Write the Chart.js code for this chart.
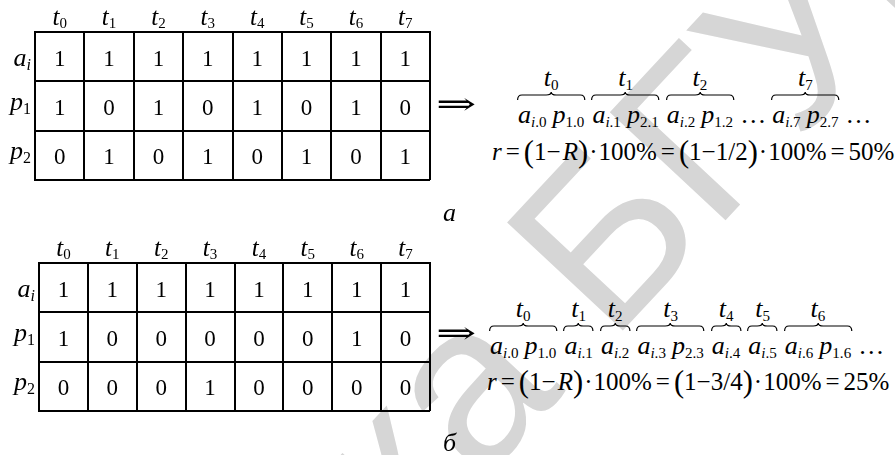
<!DOCTYPE html>
<html>
<head>
<meta charset="utf-8">
<script src="https://cdn.jsdelivr.net/npm/chart.js@4.4.1/dist/chart.umd.min.js"></script>
<style>
  body { margin: 0; background: #fff; }
  #page { position: relative; width: 895px; height: 455px; overflow: hidden;
          font-family: "Liberation Serif", "Times New Roman", serif; color: #000; }
  canvas { position: absolute; left: 0; z-index: 1; }
  #tabA { top: 0; }
  #tabB { top: 230px; }
  .terms, .rate, .cap, .arrow { position: absolute; white-space: nowrap; font-size: 26px; line-height: 26px; z-index: 1; }
  .rate { font-size: 25px; line-height: 25px; }
  .g { display: inline-block; position: relative; margin-right: 6px; padding: 0 1px; }
  .g svg { position: absolute; left: 0; top: -10px; overflow: visible; }
  .g .lab { position: absolute; left: 0; right: 0; top: -37px; text-align: center; }
  .g .sp { display: inline-block; width: 6px; }
  .dots { margin-right: 5px; }
  sub { font-size: 0.58em; vertical-align: -0.28em; line-height: 0; }
  .bp { font-size: 1.22em; vertical-align: -0.06em; line-height: 0; }
  .op { margin: 0 4px; }
  .dot { margin: 0 1px; }
  .arrow { font-family: "DejaVu Serif", serif; font-size: 30px; transform-origin: 0 50%; transform: scaleX(1.6); }
  #wm { position: absolute; left: 468px; top: 212px; font: 230px "Liberation Sans", sans-serif; line-height: 1;
        color: #d6d6d6; white-space: nowrap; transform-origin: 0 0; transform: rotate(-47deg); z-index: 0; }
  #wm span { position: absolute; right: 100%; top: 0; }
</style>
</head>
<body>
<div id="page">
  <div id="wm"><span>Библиотека&nbsp;</span>БГУИР</div>
  <canvas id="tabA" width="440" height="225"></canvas>
  <canvas id="tabB" width="440" height="225"></canvas>
  <div class="arrow" style="left:436px; top:91px;">⇒</div>
  <div class="arrow" style="left:436px; top:320px;">⇒</div>
  <div class="terms" id="termsA" style="left:517px; top:102px;"></div>
  <div class="rate" id="rateA" style="left:492px; top:139px;"></div>
  <div class="terms" id="termsB" style="left:489px; top:333px;"></div>
  <div class="rate" id="rateB" style="left:487px; top:369px;"></div>
  <div class="cap" style="left:443px; top:200px;"><i>а</i></div>
  <div class="cap" style="left:443px; top:430px;"><i>б</i></div>
</div>
<script>
// ------------------------------
// Data
// ------------------------------
const colKeys = ["0", "1", "2", "3", "4", "5", "6", "7"];
const rowKeys = ["a", "p1", "p2"];
const rowHeads = [["a", "i"], ["p", "1"], ["p", "2"]];

// table а
const aRowA  = [1, 1, 1, 1, 1, 1, 1, 1];
const p1RowA = [1, 0, 1, 0, 1, 0, 1, 0];
const p2RowA = [0, 1, 0, 1, 0, 1, 0, 1];
// table б
const aRowB  = [1, 1, 1, 1, 1, 1, 1, 1];
const p1RowB = [1, 0, 0, 0, 0, 0, 1, 0];
const p2RowB = [0, 0, 0, 1, 0, 0, 0, 0];

// columns written out in the output sequence, "…" = skipped
const seqA = ["0", "1", "2", "…", "7", "…"];
const seqB = ["0", "1", "2", "3", "4", "5", "6", "…"];
const fracA = "1/2", pctA = "50%";
const fracB = "3/4", pctB = "25%";

// ------------------------------
// Table drawing
// ------------------------------
const SERIF = '"Liberation Serif", "Times New Roman", serif';
const rowBase = { a: 9, p: 4 };

function drawRuns(ctx, runs, x, y, align) {
  let w = 0;
  runs.forEach(r => { ctx.font = r.font; r.w = ctx.measureText(r.text).width; w += r.w; });
  let cx = align === "center" ? x - w / 2 : align === "right" ? x - w : x;
  ctx.textAlign = "left";
  ctx.textBaseline = "alphabetic";
  runs.forEach(r => { ctx.font = r.font; ctx.fillText(r.text, cx, y + (r.dy || 0)); cx += r.w; });
}

const tableText = {
  id: "tableText",
  afterDraw(chart) {
    const ctx = chart.ctx;
    const xs = chart.scales.x, ys = chart.scales.y, area = chart.chartArea;
    ctx.save();
    ctx.fillStyle = "#000";
    colKeys.forEach((k, i) => {
      drawRuns(ctx, [
        { text: "t", font: "italic 25px " + SERIF },
        { text: k, font: "15px " + SERIF, dy: 3 }
      ], xs.getPixelForValue(i), area.top - 7, "center");
    });
    rowHeads.forEach((h, i) => {
      drawRuns(ctx, [
        { text: h[0], font: "italic 26px " + SERIF },
        { text: h[1], font: (h[1] === "i" ? "italic " : "") + "16px " + SERIF, dy: 4 }
      ], area.left - 4, ys.getPixelForValue(i) + rowBase[h[0]], "right");
    });
    const ds = chart.data.datasets[0];
    ctx.font = "23px " + SERIF;
    ctx.textAlign = "center";
    ctx.textBaseline = "alphabetic";
    chart.getDatasetMeta(0).data.forEach((el, i) => {
      ctx.fillText(String(ds.data[i].v), el.x, el.y + 9);
    });
    ctx.restore();
  }
};

function makeTable(id, rows, pad) {
  const pts = [];
  rows.forEach((row, r) => row.forEach((v, c) => pts.push({ x: colKeys[c], y: rowKeys[r], v })));
  const axis = (size) => ({
    type: "category",
    offset: true,
    grid: { offset: true, color: "#000", lineWidth: 2, drawTicks: false },
    border: { color: "#000", width: 2 },
    ticks: { display: false },
    afterFit: size
  });
  return new Chart(document.getElementById(id), {
    type: "scatter",
    data: { datasets: [{ data: pts, pointRadius: 0, pointHoverRadius: 0 }] },
    options: {
      responsive: false,
      animation: false,
      events: [],
      layout: { padding: pad },
      plugins: { legend: { display: false }, tooltip: { enabled: false } },
      scales: {
        x: Object.assign(axis(s => { s.height = 0; }), { labels: colKeys, position: "top" }),
        y: Object.assign(axis(s => { s.width = 0; }), { labels: rowKeys })
      }
    },
    plugins: [tableText]
  });
}

makeTable("tabA", [aRowA, p1RowA, p2RowA], { left: 35, top: 32, right: 10, bottom: 45 });
makeTable("tabB", [aRowB, p1RowB, p2RowB], { left: 39, top: 33, right: 10, bottom: 44 });

// ------------------------------
// Output sequences and rate
// ------------------------------
function termsHtml(seq, rows) {
  return seq.map(k => {
    if (k === "…") return '<span class="dots">…</span>';
    const c = colKeys.indexOf(k);
    let s = `<i>a</i><sub><i>i</i>.${k}</sub>`;
    rows.slice(1).forEach((row, j) => {
      if (row[c]) s += `<span class="sp"></span><i>p</i><sub>${j + 1}.${k}</sub>`;
    });
    return `<span class="g"><span class="lab"><i>t</i><sub>${k}</sub></span>${s}</span>`;
  }).join("");
}

function rateHtml(frac, pct) {
  const eq = '<span class="op">=</span>';
  const dot = '<span class="dot">\u00b7</span>';
  return `<i>r</i>${eq}<span class="bp">(</span>1\u2212\u200a<i>R</i><span class="bp">)</span>${dot}100%` +
         `${eq}<span class="bp">(</span>1\u2212${frac}<span class="bp">)</span>${dot}100%${eq}${pct}`;
}

document.getElementById("termsA").innerHTML = termsHtml(seqA, [aRowA, p1RowA, p2RowA]);
document.getElementById("termsB").innerHTML = termsHtml(seqB, [aRowB, p1RowB, p2RowB]);
document.getElementById("rateA").innerHTML = rateHtml(fracA, pctA);
document.getElementById("rateB").innerHTML = rateHtml(fracB, pctB);

// braces over each group
const NS = "http://www.w3.org/2000/svg";
document.querySelectorAll(".g").forEach(g => {
  const w = g.getBoundingClientRect().width;
  const m = w / 2;
  const svg = document.createElementNS(NS, "svg");
  svg.setAttribute("width", w);
  svg.setAttribute("height", 8);
  const p = document.createElementNS(NS, "path");
  p.setAttribute("d", `M0.6,8 Q0.6,3 5,3 L${m - 5},3 Q${m},3 ${m},0 Q${m},3 ${m + 5},3 L${w - 5},3 Q${w - 0.6},3 ${w - 0.6},8`);
  p.setAttribute("fill", "none");
  p.setAttribute("stroke", "#000");
  p.setAttribute("stroke-width", "1.2");
  svg.appendChild(p);
  g.appendChild(svg);
});
</script>
</body>
</html>
